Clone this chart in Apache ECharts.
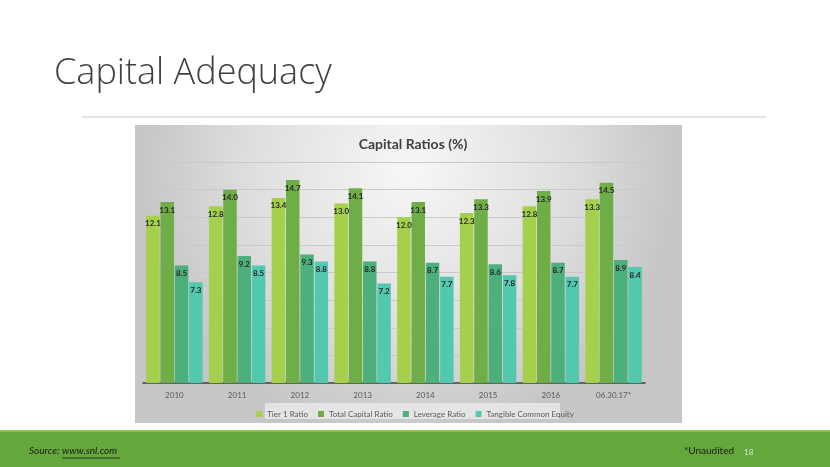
<!DOCTYPE html>
<html><head><meta charset="utf-8">
<script src="https://cdn.jsdelivr.net/npm/echarts@6/dist/echarts.min.js"></script>
<style>html,body{margin:0;padding:0;background:#fff}#c{width:830px;height:467px}</style>
</head><body><div id="c"></div>
<script>
const categories = ['2010','2011','2012','2013','2014','2015','2016','06.30.17*'];
const tier1 = [12.1,12.8,13.4,13.0,12.0,12.3,12.8,13.3];
const totalCapital = [13.1,14.0,14.7,14.1,13.1,13.3,13.9,14.5];
const leverage = [8.5,9.2,9.3,8.8,8.7,8.6,8.7,8.9];
const tangible = [7.3,8.5,8.8,7.2,7.7,7.8,7.7,8.4];
const seriesNames = ['Tier 1 Ratio','Total Capital Ratio','Leverage Ratio','Tangible Common Equity'];
const colors = ['#a5d04b','#6fad47','#4caf7c','#52c9af'];

const chart = echarts.init(document.getElementById('c'));
const lbl = {show:true, position:'insideTop', distance:4, fontSize:8, fontWeight:'bold', color:'#262626', fontFamily:'Lato', formatter: p => p.value.toFixed(1)};
const mk = (name, data, i) => ({name, type:'bar', data, barWidth:13.5, barGap:'6%', itemStyle:{color:colors[i]}, label:lbl, z:5});
chart.setOption({
  animation:false,
  color: colors,
  graphic:[
    {type:'text', left:54, top:56, z:1, style:{text:'Capital Adequacy', fontSize:36, fontFamily:'Open Sans', fontWeight:300, fill:'#404040'}},
    {type:'line', z:1, shape:{x1:82,y1:117,x2:766,y2:117}, style:{stroke:'#c8c8c8', lineWidth:1}},
    {type:'rect', z:0, shape:{x:135,y:125,width:547,height:298}, style:{fill:{type:'radial',x:0.5,y:0.15,r:0.9,colorStops:[{offset:0,color:'#f7f7f7'},{offset:0.6,color:'#dedede'},{offset:1,color:'#c6c6c6'}]}}},
    {type:'rect', z:0, shape:{x:265,y:403,width:295,height:16}, style:{fill:'rgba(235,235,235,0.8)'}},
    {type:'rect', z:0, shape:{x:0,y:430,width:830,height:37}, style:{fill:'#64a73a'}},
    {type:'rect', z:0, shape:{x:0,y:430,width:830,height:2}, style:{fill:'#8fc543'}},
    {type:'text', z:1, left:29, top:446, style:{text:'Source:', fontSize:10, fontStyle:'italic', fontFamily:'Lato', fill:'#1a1a1a'}},
    {type:'text', z:1, left:62, top:446, style:{text:'www.snl.com', fontSize:10, fontStyle:'italic', fontFamily:'Lato', fill:'#1a1a1a'}},
    {type:'line', z:1, shape:{x1:62,y1:458,x2:120,y2:458}, style:{stroke:'#1a1a1a', lineWidth:0.8}},
    {type:'text', z:1, left:684, top:446, style:{text:'*Unaudited', fontSize:10, fontFamily:'Lato', fill:'#1a1a1a'}},
    {type:'text', z:1, left:744, top:448, style:{text:'18', fontSize:8, fontFamily:'Lato', fill:'#d9ead0'}}
  ],
  title:{text:'Capital Ratios (%)', left:408, textAlign:'center', top:132, textStyle:{fontSize:14, fontWeight:'bold', color:'#404040', fontFamily:'Lato'}},
  legend:{data:seriesNames, left:'center', top:405, itemWidth:6, itemHeight:6, itemGap:10, icon:'rect', textStyle:{fontSize:8, color:'#595959', fontFamily:'Lato'}},
  grid:{left:143, right:185, top:162, bottom:84},
  xAxis:{type:'category', data:categories, axisLine:{lineStyle:{color:'#404040', width:1.5}}, axisTick:{show:false}, axisLabel:{fontSize:8, color:'#595959', margin:8, fontFamily:'Lato'}},
  yAxis:{type:'value', min:0, max:16, interval:2, axisLabel:{show:false}, axisLine:{show:false}, axisTick:{show:false}, splitLine:{lineStyle:{color:'#c9c9c9', width:1}}},
  series:[mk(seriesNames[0],tier1,0), mk(seriesNames[1],totalCapital,1), mk(seriesNames[2],leverage,2), mk(seriesNames[3],tangible,3)]
});
</script></body></html>
